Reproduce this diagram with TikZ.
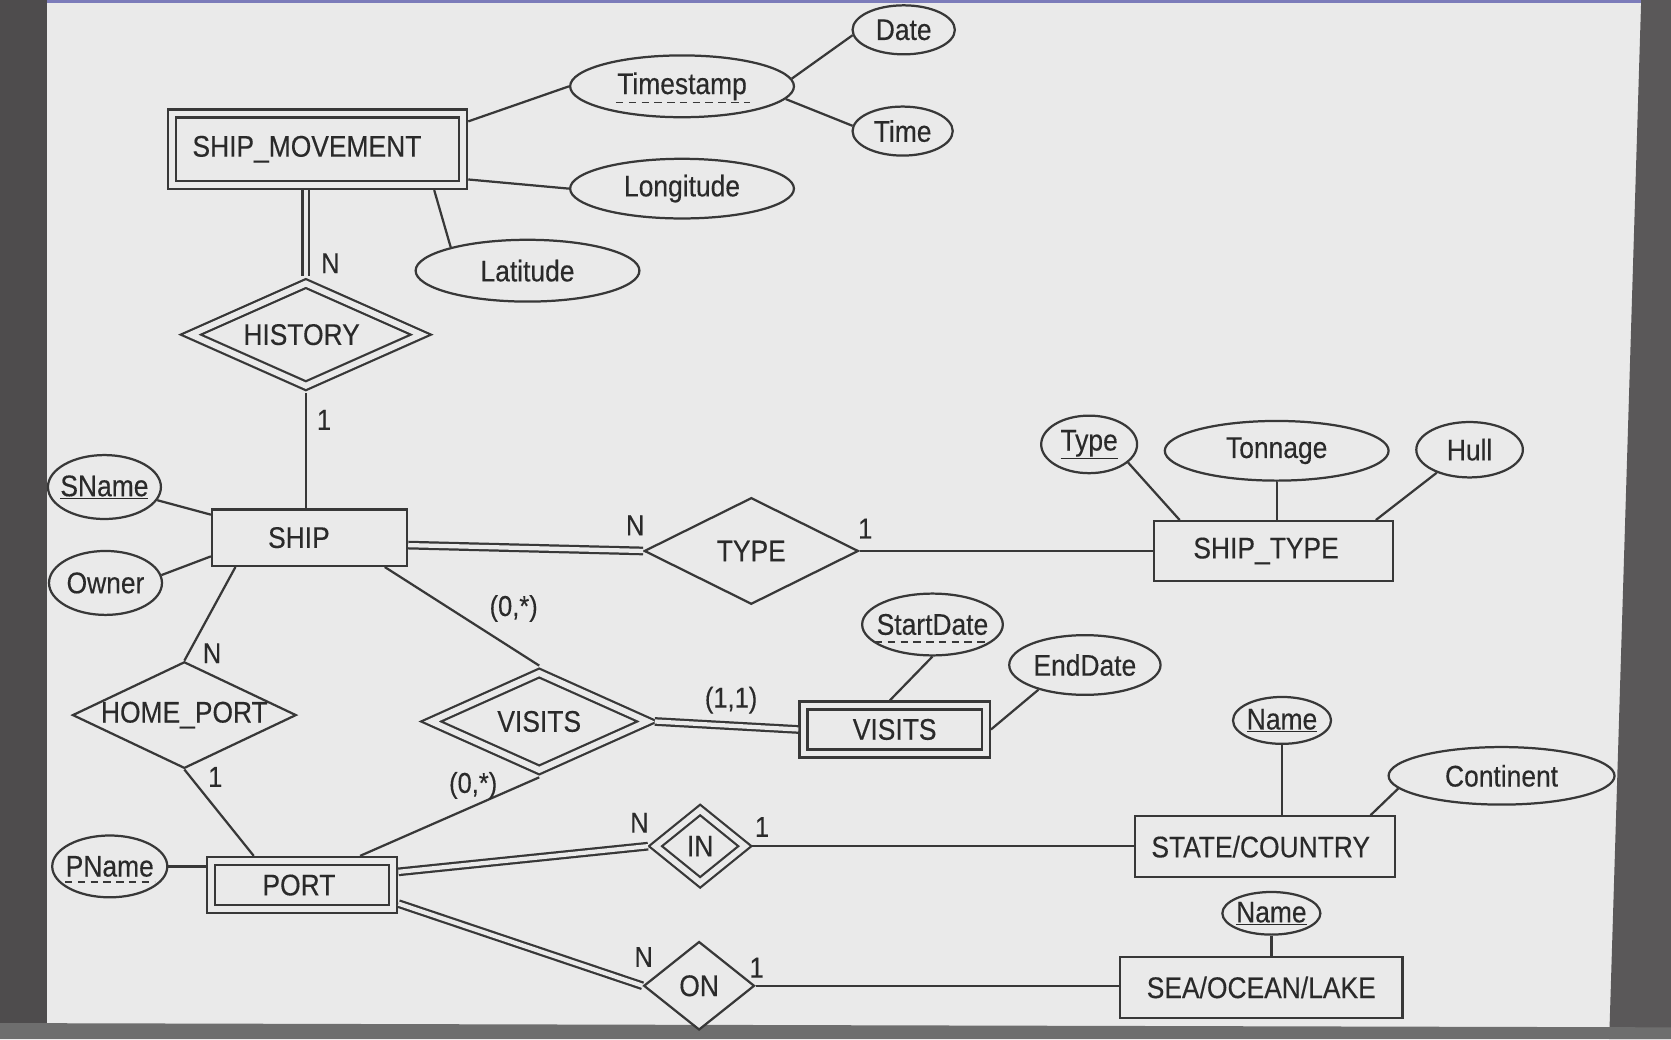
\documentclass[tikz,border=0pt]{standalone}
\usepackage{fontspec}
\setmainfont{Liberation Sans}[FakeStretch=0.885,FakeBold=0.3]
\usetikzlibrary{shapes.geometric,calc}
\definecolor{bg}{HTML}{EAEAEA}
\definecolor{ink}{HTML}{383838}
\definecolor{txt}{HTML}{2A2A2A}
\definecolor{edgeL}{HTML}{4E4C4D}
\definecolor{edgeR}{HTML}{5A5859}
\definecolor{edgeB}{HTML}{6E6E6E}
\definecolor{topline}{HTML}{7C7CBA}
\newcommand\zt[2][0pt]{\makebox[0pt]{\hspace*{#1}#2}}
\begin{document}
\begin{tikzpicture}[x=1pt,y=-1pt,
  every node/.style={font=\fontsize{28}{32}\selectfont, text=txt},
  base/.style={draw=ink, line width=2.1pt, inner sep=0pt, fill=bg},
  ent/.style={base, rectangle},
  went/.style={base, rectangle, double=bg, double distance=5.5pt, outer sep=4.9pt},
  rel/.style={base, diamond},
  wrel/.style={base, diamond, double=bg, double distance=5.5pt, outer sep=4.9pt},
  attr/.style={base, ellipse},
  lnk/.style={draw=ink, line width=2.1pt},
  dlnk/.style={lnk, double=bg, double distance=4pt},
  dul/.style={draw=ink, line width=1.6pt, dash pattern=on 7pt off 5pt},
  card/.style={font=\fontsize{27}{30}\selectfont, text=txt, inner sep=0pt}]
\useasboundingbox (0,0) rectangle (1568,975);
\fill[bg] (0,0) rectangle (1568,975);
\fill[edgeL] (0,0) rectangle (44,975);
\fill[edgeR] (1540,0) -- (1568,0) -- (1568,975) -- (1510,975) -- cycle;
\fill[edgeB] (0,960) -- (1568,964) -- (1568,975) -- (0,975) -- cycle;
\fill[topline] (44,0) rectangle (1540,3);

% entities
\node[went, minimum width=273pt, minimum height=67pt] (sm) at (298,140) {\zt[-20pt]{SHIP\_MOVEMENT}};
\node[ent, minimum width=183pt, minimum height=53pt] (ship) at (290.5,504.5) {\zt[-20pt]{SHIP}};
\node[ent, minimum width=224pt, minimum height=56pt] (shiptype) at (1195,517) {\zt[-14pt]{SHIP\_TYPE}};
\node[went, minimum width=171pt, minimum height=45pt] (visent) at (839.5,684.5) {\zt{VISITS}};
\node[went, minimum width=171pt, minimum height=45pt] (port) at (283.5,830.5) {\zt[-6pt]{PORT}};
\node[ent, minimum width=244pt, minimum height=57pt] (sc) at (1187,794.5) {\zt[-8pt]{STATE/COUNTRY}};
\node[ent, minimum width=265pt, minimum height=57pt] (sea) at (1183.5,926.5) {\zt{SEA/OCEAN/LAKE}};

% relationships
\node[wrel, minimum width=220pt, minimum height=100pt] (hist) at (287,314) {\zt[-8pt]{HISTORY}};
\node[rel, minimum width=201pt, minimum height=100pt] (type) at (705,517) {\zt{TYPE}};
\node[rel, minimum width=210pt, minimum height=100pt] (homeport) at (173,671) {\zt{HOME\_PORT}};
\node[wrel, minimum width=207pt, minimum height=95pt] (visrel) at (506,677) {\zt{VISITS}};
\node[wrel, minimum width=88pt, minimum height=72pt] (in) at (657,794) {\zt{IN}};
\node[rel, minimum width=104pt, minimum height=83pt] (on) at (656,925) {\zt{ON}};

% attributes
\node[attr, minimum width=210pt, minimum height=58pt] (ts) at (640,81) {\zt{Timestamp}};
\node[attr, minimum width=96pt, minimum height=46pt] (date) at (848,28) {\zt{Date}};
\node[attr, minimum width=94pt, minimum height=46pt] (time) at (847,123) {\zt{Time}};
\node[attr, minimum width=210pt, minimum height=56pt] (lon) at (640,177) {\zt{Longitude}};
\node[attr, minimum width=210pt, minimum height=58pt] (lat) at (495,254) {\zt{Latitude}};
\node[attr, minimum width=106pt, minimum height=60pt] (sname) at (98,457) {\zt{\underline{SName}}};
\node[attr, minimum width=106pt, minimum height=60pt] (owner) at (99,547) {\zt{Owner}};
\node[attr, minimum width=90pt, minimum height=54pt] (tyattr) at (1022,417) {\zt{\underline{Type}}};
\node[attr, minimum width=210pt, minimum height=56pt] (tonnage) at (1198,423) {\zt{Tonnage}};
\node[attr, minimum width=100pt, minimum height=52pt] (hull) at (1379,422) {\zt{Hull}};
\node[attr, minimum width=132pt, minimum height=58pt] (start) at (875,586) {\zt{StartDate}};
\node[attr, minimum width=142pt, minimum height=56pt] (end) at (1018,624) {\zt{EndDate}};
\node[attr, minimum width=108pt, minimum height=58pt] (pname) at (103,813) {\zt{PName}};
\node[attr, minimum width=92pt, minimum height=44pt] (name1) at (1203,676) {\zt{\underline{Name}}};
\node[attr, minimum width=212pt, minimum height=54pt] (cont) at (1409,728) {\zt{Continent}};
\node[attr, minimum width=92pt, minimum height=40pt] (name2) at (1193,857) {\zt{\underline{Name}}};

% dashed underlines (partial keys)
\draw[dul] ([xshift=-62pt,yshift=-8pt]ts.base) -- ([xshift=64pt,yshift=-8pt]ts.base);
\draw[dul] ([xshift=-54pt,yshift=-7pt]start.base) -- ([xshift=54pt,yshift=-7pt]start.base);
\draw[dul] ([xshift=-42pt,yshift=-5pt]pname.base) -- ([xshift=42pt,yshift=-5pt]pname.base);

% connectors
\draw[dlnk] (hist.north |- sm.south) -- (hist.north);
\draw[lnk] (hist.south) -- (hist.south |- ship.north);
\draw[lnk] ($(sm.north east)!0.16!(sm.south east)$) -- (ts.west);
\draw[lnk] ($(sm.north east)!0.87!(sm.south east)$) -- (lon.west);
\draw[lnk] ($(sm.south west)!0.887!(sm.south east)$) -- (lat.163);
\draw[lnk] (ts.4) -- (date.186);
\draw[lnk] (ts.353) -- (time.174);
\draw[lnk] (sname.346) -- ([yshift=-6pt]ship.north west);
\draw[lnk] (owner.8) -- ([yshift=10pt]ship.south west);
\draw[dlnk] ([yshift=-7pt]ship.east) -- (type.west);
\draw[lnk] (type.east) -- (type.east -| shiptype.west);
\draw[lnk] (tyattr.335) -- ([xshift=25pt]shiptype.north west);
\draw[lnk] (tonnage.south) -- (tonnage.south |- shiptype.north);
\draw[lnk] (hull.215) -- ([xshift=-17pt]shiptype.north east);
\draw[lnk] ([xshift=23pt]ship.south west) -- (homeport.north);
\draw[lnk] (homeport.south) -- ([xshift=45pt]port.north west);
\draw[lnk] ([xshift=-22pt]ship.south east) -- (visrel.north);
\draw[lnk] ([xshift=-36pt]port.north east) -- (visrel.south);
\draw[dlnk] (visrel.east) -- (visent.west);
\draw[lnk] (start.south) -- ([xshift=86pt]visent.north west);
\draw[lnk] (end.208) -- (visent.east);
\draw[lnk] (pname.east) -- (pname.east -| port.west);
\draw[dlnk] ([yshift=-15pt]port.north east) -- (in.west);
\draw[lnk] (in.east) -- (in.east -| sc.west);
\draw[dlnk] ([yshift=10pt]port.south east) -- (on.west);
\draw[lnk] (on.east) -- (on.east -| sea.west);
\draw[lnk] (name1.south) -- (name1.south |- sc.north);
\draw[lnk] (cont.187) -- ([xshift=-24pt]sc.north east);
\draw[lnk] (name2.south) -- (name2.south |- sea.north);

% cardinalities
\node[card] (c1) at (310,247) {N};
\node[card] (c2) at (304,394) {1};
\node[card] (c3) at (596,493) {N};
\node[card] (c4) at (812,496) {1};
\node[card] (c5) at (199,613) {N};
\node[card] (c6) at (202,729) {1};
\node[card] (c7) at (482,571) {(0,*)};
\node[card] (c8) at (444,737) {(0,*)};
\node[card] (c9) at (686,657) {(1,1)};
\node[card] (c10) at (600,772) {N};
\node[card] (c11) at (715,776) {1};
\node[card] (c12) at (604,898) {N};
\node[card] (c13) at (710,908) {1};
\end{tikzpicture}
\end{document}
